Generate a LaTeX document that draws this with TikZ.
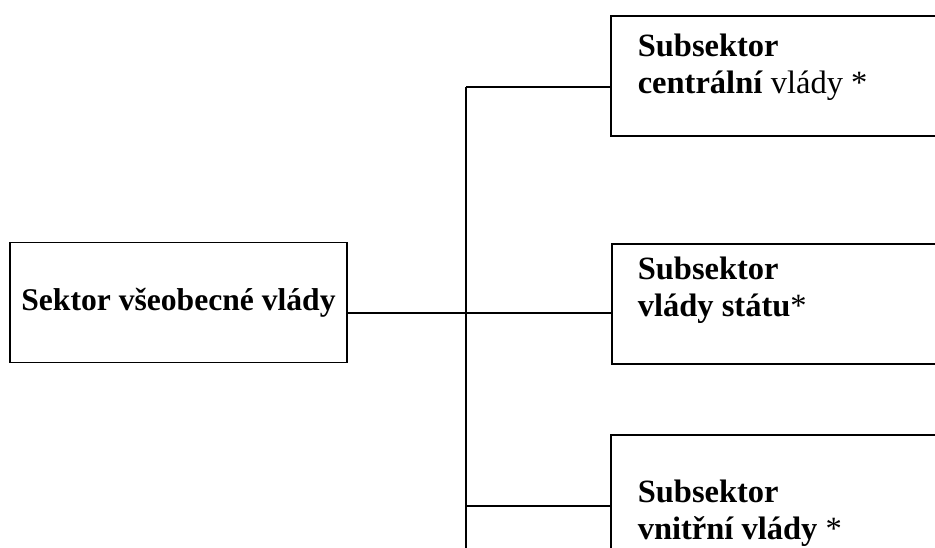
\documentclass[tikz,border=0pt]{standalone}
\usepackage{fontspec}
\setmainfont{Liberation Serif}
\usetikzlibrary{positioning}

\begin{document}
\begin{tikzpicture}[x=1pt, y=-1pt, line width=1.6pt,
        every node/.style={font=\fontsize{32.5}{37.5}\selectfont},
        box/.style={draw, rectangle, inner sep=0pt, minimum height=120pt},
        subbox/.style={box, anchor=north west, minimum width=400pt},
        label text/.style={anchor=north west, align=left, inner sep=0pt}]
        \clip (0,0) rectangle (935,548);

        % General government box
        \node[box, minimum width=337pt, font=\fontsize{31.6}{36}\selectfont] (gov) at (178.5,302.5) {\textbf{Sektor všeobecné vlády}};

        % Subsector boxes (running off the right edge)
        \node[subbox] (central) at (610,15) {};
        \node[subbox] (state) at (611,243) {};
        \node[subbox, minimum height=170pt] (local) at (610,434) {};

        % Box texts
        \node[label text] (central text) at (637,33) {\textbf{Subsektor}\\\textbf{centrální} vlády *};
        \node[label text] (state text) at (637,256) {\textbf{Subsektor}\\\textbf{vlády státu}*};
        \node[label text] (local text) at (637,479) {\textbf{Subsektor}\\\textbf{vnitřní vlády} *};

        % Fork points of the connector
        \coordinate (fork top) at (466,87);
        \coordinate (fork mid) at (466,313);
        \coordinate (fork bot) at (466,506);
        \coordinate (bus end) at (466,560);

        % Connectors
        \draw (fork top) -- (bus end);
        \draw (gov.east |- fork mid) -- (fork mid -| state.west);
        \draw (fork top) -- (fork top -| central.west);
        \draw (fork bot) -- (fork bot -| local.west);
    \end{tikzpicture}
\end{document}
